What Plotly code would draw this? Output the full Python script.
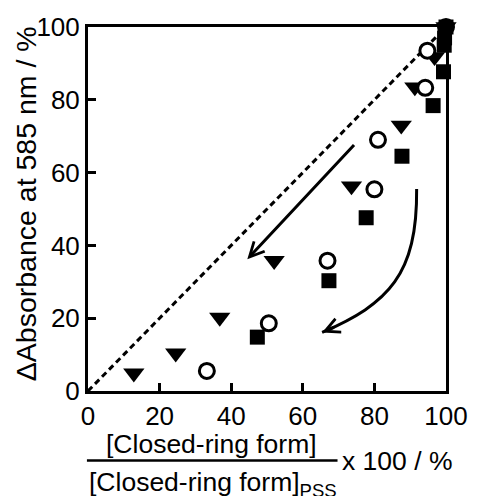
import plotly.graph_objects as go

# ---- data ----
tri_x = [12.8, 24.5, 36.8, 52.0, 73.6, 87.5, 91.3, 96.8, 100.0]
tri_y = [4.9, 10.4, 20.2, 35.8, 56.3, 73.0, 83.5, 91.8, 100.0]

circ_x = [33.2, 50.5, 66.9, 80.0, 81.0, 94.2, 94.8, 100.0]
circ_y = [5.5, 18.6, 35.8, 55.4, 69.0, 83.3, 93.5, 100.0]

sq_x = [47.3, 67.3, 77.7, 87.7, 96.4, 99.3, 99.5, 99.6, 100.0]
sq_y = [14.8, 30.3, 47.6, 64.5, 78.4, 87.7, 95.0, 97.0, 100.0]

diag_x = [0, 100]
diag_y = [0, 100]

# straight arrow: start -> tip
arrow1_start = (74.7, 68.0)
arrow1_tip = (44.5, 36.2)
# curved arrow: start, control1, control2, tip
arrow2_pts = [(91.8, 55.5), (92.0, 32.0), (84.0, 24.0), (65.4, 16.1)]

x_ticks = [0, 20, 40, 60, 80, 100]
y_ticks = [0, 20, 40, 60, 80, 100]

FONT = "Liberation Sans, Arial, sans-serif"

fig = go.Figure()

fig.add_trace(go.Scatter(x=diag_x, y=diag_y, mode="lines",
                         line=dict(color="black", width=3, dash="6px,4px"),
                         hoverinfo="skip", showlegend=False))

fig.add_trace(go.Scatter(x=tri_x, y=tri_y, mode="markers", cliponaxis=False,
                         marker=dict(symbol="triangle-down", size=18.5, color="black",
                                     line=dict(width=0)),
                         showlegend=False))
fig.add_trace(go.Scatter(x=circ_x, y=circ_y, mode="markers", cliponaxis=False,
                         marker=dict(symbol="circle", size=15, color="white",
                                     line=dict(width=3, color="black")),
                         showlegend=False))
fig.add_trace(go.Scatter(x=sq_x, y=sq_y, mode="markers", cliponaxis=False,
                         marker=dict(symbol="square", size=15, color="black",
                                     line=dict(width=0)),
                         showlegend=False))

# straight arrow
fig.add_annotation(x=arrow1_tip[0], y=arrow1_tip[1], ax=arrow1_start[0], ay=arrow1_start[1],
                   xref="x", yref="y", axref="x", ayref="y", text="",
                   showarrow=True, arrowhead=5, arrowsize=0.95, arrowwidth=3,
                   arrowcolor="black", standoff=0, startstandoff=0)

# curved arrow body
p0, c1, c2, p3 = arrow2_pts
fig.add_shape(type="path", xref="x", yref="y",
              path=f"M {p0[0]},{p0[1]} C {c1[0]},{c1[1]} {c2[0]},{c2[1]} {p3[0]},{p3[1]}",
              line=dict(color="black", width=3))
# curved arrow head (short segment along end tangent)
dx = p3[0] - c2[0]
dy = p3[1] - c2[1]
fig.add_annotation(x=p3[0], y=p3[1], ax=p3[0] - 0.2 * dx, ay=p3[1] - 0.2 * dy,
                   xref="x", yref="y", axref="x", ayref="y", text="",
                   showarrow=True, arrowhead=5, arrowsize=0.95, arrowwidth=3,
                   arrowcolor="black", standoff=0, startstandoff=0)

# x-axis title as a fraction
fig.add_annotation(xref="paper", yref="paper", x=0.345, y=-0.145,
                   text="[Closed-ring form]", showarrow=False,
                   font=dict(family=FONT, size=26.5, color="black"),
                   xanchor="center", yanchor="middle")
fig.add_annotation(xref="paper", yref="paper", x=0.349, y=-0.256,
                   text="[Closed-ring form]<sub>PSS</sub>", showarrow=False,
                   font=dict(family=FONT, size=26.5, color="black"),
                   xanchor="center", yanchor="middle")
fig.add_annotation(xref="paper", yref="paper", x=0.705, y=-0.191,
                   text="x 100 / %", showarrow=False,
                   font=dict(family=FONT, size=26.5, color="black"),
                   xanchor="left", yanchor="middle")
fig.add_shape(type="line", xref="paper", yref="paper", x0=-0.003, x1=0.697,
              y0=-0.191, y1=-0.191, line=dict(color="black", width=2.5))

# y-axis title
fig.add_annotation(xref="paper", yref="paper", x=-0.174, y=0.515,
                   text="ΔAbsorbance at 585 nm / %", showarrow=False, textangle=-90,
                   font=dict(family=FONT, size=28.5, color="black"),
                   xanchor="center", yanchor="middle")

axis_common = dict(showline=True, linewidth=3, linecolor="black", mirror=True,
                   ticks="inside", ticklen=8, tickwidth=3, tickcolor="black",
                   showgrid=False, zeroline=False,
                   tickfont=dict(family=FONT, size=26, color="black"))

fig.update_xaxes(range=[0, 100], tickvals=x_ticks, **axis_common)
fig.update_yaxes(range=[0, 100], tickvals=y_ticks, **axis_common)

fig.update_layout(width=480, height=496,
                  margin=dict(l=88, r=25, t=25, b=105),
                  plot_bgcolor="white", paper_bgcolor="white",
                  font=dict(family=FONT, size=26, color="black"))

fig.write_html("out.html")
